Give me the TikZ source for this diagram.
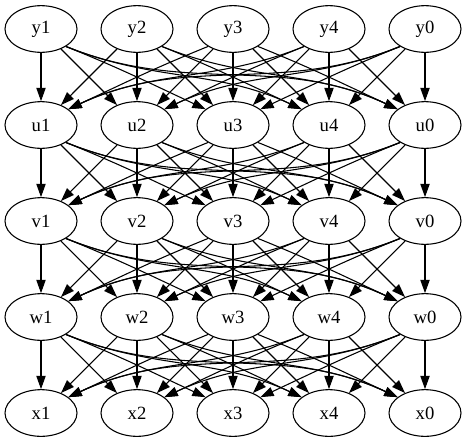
\documentclass[tikz,border=0pt]{standalone}
\usepackage{fontspec}
\setmainfont{Liberation Serif}
\usetikzlibrary{arrows.meta,shapes.geometric}
\begin{document}
\begin{tikzpicture}[x=0.75pt,y=0.75pt,
  gnode/.style={ellipse,draw,line width=0.8pt,minimum width=54pt,minimum height=35pt,inner sep=0pt,font=\fontsize{14pt}{16pt}\selectfont},
  edge/.style={line width=0.8pt,-{Triangle[length=10pt,width=7pt]}}]
\useasboundingbox (0,0) rectangle (467,-443);
\foreach \r [count=\ri from 0] in {y,u,v,w,x} {
  \foreach \l [count=\ci from 0] in {1,2,3,4,0} {
    \node[gnode] (\r\l) at ({41+96*\ci},{-29-96*\ri}) {\r\l};
  }
}
\foreach \s/\t in {y/u,u/v,v/w,w/x} {
  \foreach \a [count=\i] in {1,2,3,4,0} {
    \foreach \b [count=\j] in {1,2,3,4,0} {
      \pgfmathtruncatemacro\d{\j-\i}
      \ifnum\d>1
        \draw[edge] (\s\a.-35) to[out=-22,in=155] (\t\b.150);
      \else\ifnum\d<-1
        \draw[edge] (\s\a.-145) to[out=-158,in=25] (\t\b.30);
      \else
        \draw[edge] (\s\a) -- (\t\b);
      \fi\fi
    }
  }
}
\end{tikzpicture}
\end{document}
